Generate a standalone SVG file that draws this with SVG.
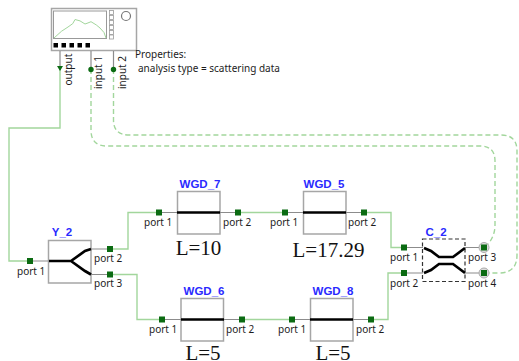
<svg xmlns="http://www.w3.org/2000/svg" width="519" height="361" viewBox="0 0 519 361">
<style>
.box{fill:#fff;stroke:#a6a6a6;stroke-width:1.5}
.lead{stroke:#8c8c8c;stroke-width:1.2;fill:none}
.core{stroke:#000;stroke-width:2.7;fill:none}
.wire{stroke:#a2d69c;stroke-width:1.4;fill:none}
.dash{stroke:#a2d69c;stroke-width:1.4;fill:none;stroke-dasharray:5 3}
.port{fill:#0b6b12}
.t{font-family:"Noto Sans","Liberation Sans",Arial,sans-serif;font-size:10px;fill:#1c1c1c}
.name{font-family:"Liberation Sans",Arial,sans-serif;font-size:11.5px;font-weight:bold;fill:#2a2aff;text-anchor:middle}
.len{font-family:"Liberation Serif","Times New Roman",serif;font-size:21px;fill:#111;text-anchor:middle}
</style>
<g id="connectors">
<path class="wire" d="M60 69V128H9V261H30"/>
<path class="wire" d="M110 249H128V212.500H158"/>
<path class="wire" d="M110 274.500H137V319.500H162"/>
<path class="wire" d="M238 212.500H285"/>
<path class="wire" d="M242 319.500H292"/>
<path class="wire" d="M364 212.500H391V247.500H404"/>
<path class="wire" d="M371 319.500H388V273H404"/>
<path class="dash" d="M91 69V130Q91 146 107 146H480Q495 146 495 161V225Q495 238 485 247"/>
<path class="dash" d="M113.500 69V120Q113.500 135 129 135H501Q517 135 517 151V255Q517 273 499 273H485"/>
</g>
<g id="analyzer">
<rect class="box" x="51.500" y="8.500" width="85" height="42"/>
<rect x="53.500" y="11" width="53" height="27.500" fill="#fff" stroke="#999" stroke-width="1"/>
<path d="M54 38Q62 30 68 27T75 19.500Q80 20 85 24Q88 23 91 21.700Q97 25 100 28Q105 32 106 38" fill="none" stroke="#a2d69c" stroke-width="1"/>
<g fill="#fff" stroke="#999" stroke-width="0.8"><rect x="109.500" y="10.500" width="4" height="4"/><rect x="109.500" y="15.500" width="4" height="4"/><rect x="109.500" y="20.500" width="4" height="4"/><rect x="109.500" y="25.500" width="4" height="4"/><rect x="109.500" y="30.500" width="4" height="4"/><rect x="109.500" y="35" width="4" height="4"/></g>
<circle cx="126" cy="16" r="4.500" fill="#fff" stroke="#777" stroke-width="1.200"/>
<g fill="#000"><rect x="53.500" y="43" width="4.500" height="4.500"/><rect x="61.500" y="43" width="4.500" height="4.500"/><rect x="69.500" y="43" width="4.500" height="4.500"/><rect x="77.500" y="43" width="4.500" height="4.500"/><rect x="85.500" y="43" width="4.500" height="4.500"/></g>
<path class="lead" d="M60 51V67M91 51V67M113.500 51V67" stroke="#777"/>
<path d="M57 66H63L60 71Z" class="port"/>
<circle class="port" cx="91" cy="69.500" r="2.700"/>
<circle class="port" cx="113.500" cy="69.500" r="2.700"/>
<text class="t" transform="translate(72 85.500) rotate(-90)">output</text>
<text class="t" transform="translate(102 89) rotate(-90)">input 1</text>
<text class="t" transform="translate(126 89) rotate(-90)">input 2</text>
<text class="t" x="135" y="58">Properties:</text>
<text class="t" x="138" y="72">analysis type = scattering data</text>
</g>
<g id="Y_2">
<text class="name" x="62" y="236">Y_2</text>
<rect class="box" x="48.500" y="240.500" width="42.500" height="42.500"/>
<path class="lead" d="M30 261H49M91 249H110M91 274.500H110"/>
<path class="core" d="M49 261H71L85 251L91 249M71 261L85 271L91 274.500"/>
<rect class="port" x="27" y="258" width="6" height="6"/>
<rect class="port" x="107" y="246" width="6" height="6"/>
<rect class="port" x="107" y="271.500" width="6" height="6"/>
<text class="t" x="17" y="275">port 1</text>
<text class="t" x="94" y="262">port 2</text>
<text class="t" x="94" y="287">port 3</text>
</g>
<g id="WGD_7">
<text class="name" x="200" y="188">WGD_7</text>
<rect class="box" x="177.500" y="191.500" width="42.500" height="42.500"/>
<path class="lead" d="M158 212.500H177M220 212.500H238"/>
<path class="core" d="M177 212.500H220"/>
<rect class="port" x="156" y="209.500" width="6" height="6"/>
<rect class="port" x="235" y="209.500" width="6" height="6"/>
<text class="t" x="144" y="226">port 1</text>
<text class="t" x="223" y="226">port 2</text>
<text class="len" x="198.500" y="255">L=10</text>
</g>
<g id="WGD_5">
<text class="name" x="324" y="188">WGD_5</text>
<rect class="box" x="303.500" y="191.500" width="42.500" height="42.500"/>
<path class="lead" d="M285 212.500H303M346 212.500H364"/>
<path class="core" d="M303 212.500H346"/>
<rect class="port" x="282" y="209.500" width="6" height="6"/>
<rect class="port" x="361" y="209.500" width="6" height="6"/>
<text class="t" x="270" y="226">port 1</text>
<text class="t" x="348" y="226">port 2</text>
<text class="len" x="328.500" y="257">L=17.29</text>
</g>
<g id="WGD_6">
<text class="name" x="204" y="295">WGD_6</text>
<rect class="box" x="181" y="298.500" width="42.500" height="42.500"/>
<path class="lead" d="M162 319.500H181M224 319.500H242"/>
<path class="core" d="M181 319.500H224"/>
<rect class="port" x="159" y="316.500" width="6" height="6"/>
<rect class="port" x="239" y="316.500" width="6" height="6"/>
<text class="t" x="149" y="333">port 1</text>
<text class="t" x="226" y="333">port 2</text>
<text class="len" x="203" y="360">L=5</text>
</g>
<g id="WGD_8">
<text class="name" x="333" y="295">WGD_8</text>
<rect class="box" x="310.500" y="298.500" width="42.500" height="42.500"/>
<path class="lead" d="M292 319.500H310M353 319.500H371"/>
<path class="core" d="M310 319.500H353"/>
<rect class="port" x="289" y="316.500" width="6" height="6"/>
<rect class="port" x="368" y="316.500" width="6" height="6"/>
<text class="t" x="278" y="333">port 1</text>
<text class="t" x="356" y="333">port 2</text>
<text class="len" x="333" y="360">L=5</text>
</g>
<g id="C_2">
<text class="name" x="436" y="236">C_2</text>
<rect x="422.500" y="239" width="42.500" height="42.500" fill="#fff" stroke="#333" stroke-width="1.200" stroke-dasharray="4 2.500"/>
<path class="lead" d="M404 247.500H423M465 247.500H484M404 273H423M465 273H484"/>
<path class="core" d="M424 248L431 251L439 257H453L461 251L465 248M424 273L431 270L439 264H453L461 270L465 273"/>
<rect class="port" x="401" y="244.500" width="6" height="6"/>
<rect class="port" x="401" y="270" width="6" height="6"/>
<circle cx="484" cy="247.500" r="5" fill="#ddd" stroke="#aaa"/>
<circle cx="484" cy="273" r="5" fill="#ddd" stroke="#aaa"/>
<rect class="port" x="481" y="244.500" width="6" height="6"/>
<rect class="port" x="481" y="270" width="6" height="6"/>
<text class="t" x="390" y="261">port 1</text>
<text class="t" x="390" y="287">port 2</text>
<text class="t" x="468" y="261">port 3</text>
<text class="t" x="468" y="287">port 4</text>
</g>
</svg>
